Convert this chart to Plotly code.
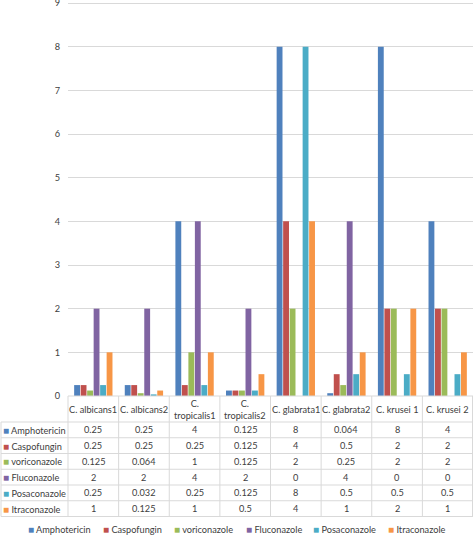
import plotly.graph_objects as go

categories = ["C. albicans1", "C. albicans2", "C. tropicalis1", "C. tropicalis2",
              "C. glabrata1", "C. glabrata2", "C. krusei 1", "C. krusei 2"]
header_labels = ["C. albicans1", "C. albicans2", "C.<br>tropicalis1", "C.<br>tropicalis2",
                 "C. glabrata1", "C. glabrata2", "C. krusei 1", "C. krusei 2"]
drugs = ["Amphotericin", "Caspofungin", "voriconazole", "Fluconazole", "Posaconazole", "Itraconazole"]

amphotericin = [0.25, 0.25, 4, 0.125, 8, 0.064, 8, 4]
caspofungin = [0.25, 0.25, 0.25, 0.125, 4, 0.5, 2, 2]
voriconazole = [0.125, 0.064, 1, 0.125, 2, 0.25, 2, 2]
fluconazole = [2, 2, 4, 2, 0, 4, 0, 0]
posaconazole = [0.25, 0.032, 0.25, 0.125, 8, 0.5, 0.5, 0.5]
itraconazole = [1, 0.125, 1, 0.5, 4, 1, 2, 1]
series = [amphotericin, caspofungin, voriconazole, fluconazole, posaconazole, itraconazole]

colors = ["#4F81BD", "#C0504D", "#9BBB59", "#8064A2", "#4BACC6", "#F79646"]
y_ticks = list(range(0, 10))

W, H = 473, 536
FONT = "Lato"
FS = 9.2
TXT = "#404040"
GRID = "#D9D9D9"

def px(x):
    return x / W

def py(y):
    return 1 - y / H

# layout geometry (pixels)
plot_left, plot_right = 68, 473
y_max = 9.06
unit = (396 - 3) / 9
plot_bottom = 396
plot_top = plot_bottom - unit * y_max
header_bottom = 422
row_h = 15.75
col_w = (plot_right - plot_left) / len(categories)

fig = go.Figure()
for name, vals, col in zip(drugs, series, colors):
    fig.add_trace(go.Bar(
        x=categories, y=vals, name=name,
        marker=dict(color=col, line=dict(width=0)),
        showlegend=False, hoverinfo="x+y+name",
    ))

shapes = []
annotations = []
line_style = dict(color=GRID, width=1)

table_bottom = header_bottom + row_h * len(drugs)
shapes.append(dict(type="line", xref="paper", yref="paper",
                   x0=px(plot_left), x1=px(plot_right), y0=py(plot_bottom), y1=py(plot_bottom), line=line_style))
for i in range(len(drugs) + 1):
    yy = header_bottom + i * row_h
    shapes.append(dict(type="line", xref="paper", yref="paper",
                       x0=px(1), x1=px(plot_right), y0=py(yy), y1=py(yy), line=line_style))
shapes.append(dict(type="line", xref="paper", yref="paper",
                   x0=px(1), x1=px(1), y0=py(header_bottom), y1=py(table_bottom), line=line_style))
for j in range(len(categories) + 1):
    xx = min(plot_left + j * col_w, W - 0.5)
    shapes.append(dict(type="line", xref="paper", yref="paper",
                       x0=px(xx), x1=px(xx), y0=py(plot_bottom), y1=py(table_bottom), line=line_style))

sq = "<span style='color:{c};font-size:10px'>■</span> {n}"

for j, lab in enumerate(header_labels):
    annotations.append(dict(xref="paper", yref="paper", x=px(plot_left + (j + 0.5) * col_w),
                            y=py((plot_bottom + header_bottom) / 2), text=lab, showarrow=False,
                            xanchor="center", yanchor="middle",
                            font=dict(family=FONT, size=FS, color=TXT)))
for i, (name, vals, col) in enumerate(zip(drugs, series, colors)):
    yc = header_bottom + (i + 0.5) * row_h
    annotations.append(dict(xref="paper", yref="paper", x=px(1), y=py(yc),
                            text=sq.format(c=col, n=name), showarrow=False,
                            xanchor="left", yanchor="middle",
                            font=dict(family=FONT, size=FS, color=TXT)))
    for j, v in enumerate(vals):
        annotations.append(dict(xref="paper", yref="paper", x=px(plot_left + (j + 0.5) * col_w),
                                y=py(yc), text=f"{v:g}", showarrow=False,
                                xanchor="center", yanchor="middle",
                                font=dict(family=FONT, size=FS, color=TXT)))

legend_x = [26, 101, 172, 244, 311, 386]
for name, col, lx in zip(drugs, colors, legend_x):
    annotations.append(dict(xref="paper", yref="paper", x=px(lx), y=py(528.5),
                            text=sq.format(c=col, n=name), showarrow=False,
                            xanchor="left", yanchor="middle",
                            font=dict(family=FONT, size=FS, color=TXT)))

fig.update_layout(
    width=W, height=H, autosize=False,
    margin=dict(l=0, r=0, t=0, b=0),
    paper_bgcolor="white", plot_bgcolor="white",
    barmode="group", bargap=0.23, bargroupgap=0.1,
    font=dict(family=FONT, size=FS, color=TXT),
    xaxis=dict(domain=[px(plot_left), px(plot_right)], showticklabels=False,
               showgrid=False, showline=False, zeroline=False, range=[-0.5, 7.5]),
    yaxis=dict(domain=[py(plot_bottom), py(plot_top)], range=[0, y_max],
               tickvals=y_ticks, showgrid=True, gridcolor=GRID, gridwidth=1,
               zeroline=False, showline=False, ticks="", ticklabelstandoff=7,
               ticklabeloverflow="allow", automargin=False,
               tickfont=dict(family=FONT, size=FS, color=TXT)),
    shapes=shapes, annotations=annotations,
)

fig.write_html("out.html", config={"displayModeBar": False},
               post_script="document.body.style.margin='0';document.body.style.overflow='hidden';")
